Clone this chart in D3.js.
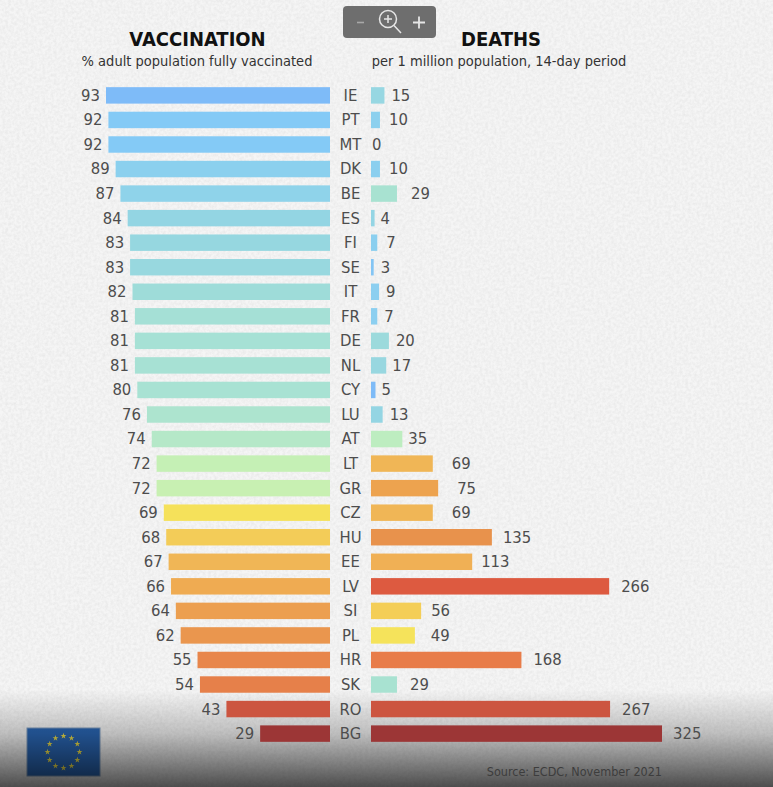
<!DOCTYPE html>
<html>
<head>
<meta charset="utf-8">
<style>
  html, body { margin: 0; padding: 0; background: #f2f2f2; }
  svg { display: block; }
  text { font-family: "DejaVu Sans Condensed", "DejaVu Sans", sans-serif; }
</style>
</head>
<body>
<div class="chart"></div>
<script src="https://cdn.jsdelivr.net/npm/d3@7/dist/d3.min.js"></script>
<script>
var countries = ['IE','PT','MT','DK','BE','ES','FI','SE','IT','FR','DE','NL','CY','LU','AT','LT','GR','CZ','HU','EE','LV','SI','PL','HR','SK','RO','BG']
var vaccination = [93,92,92,89,87,84,83,83,82,81,81,81,80,76,74,72,72,69,68,67,66,64,62,55,54,43,29]
var deaths = [15,10,0,10,29,4,7,3,9,7,20,17,5,13,35,69,75,69,135,113,266,56,49,168,29,267,325]

var vacColors = ['#7ebbf8','#84caf6','#84caf6','#8bd0ee','#8fd3ea','#93d5e3','#96d7e0','#98d8df','#9edcd9','#a5e0d6','#a6e1d5','#a7e1d4','#a8e2d3','#ade4cf','#b5e8c8','#c5f0b5','#c8f0b2','#f5e15a','#f3cc58','#f0b656','#efab52','#ec9f50','#ea964e','#e8864b','#e6804a','#cc5540','#9c3636']
var deathColors = ['#97d7e2','#8cd0ee','#8cd0ee','#8bcfef','#a8e2d1','#94d5e4','#8bcfef','#84c5f4','#8ccff0','#8ccff0','#9cdadc','#98d7e0','#7ebbf7','#94d5e3','#bdedc0','#f0b656','#eda34f','#f0b656','#e8924c','#f0b055','#dd5a40','#f4ce57','#f5e35b','#e87c49','#a8e2d1','#cc5540','#9c3636']

// the death labels are hand placed in the original, gap to bar end in px
var deathLabelGap = [7,9,1,9,14,6,9,7,7,7,7,6,6,7,6,19,19,19,11,9,12,10,16,12,13,12,11]

var width = 773
var height = 787

var svg = d3.select('.chart').append('svg')
    .attr('width', width)
    .attr('height', height)

var defs = svg.append('defs')

// paper texture
var paper = defs.append('filter').attr('id', 'paper')
    .attr('x', 0).attr('y', 0).attr('width', '100%').attr('height', '100%')
paper.append('feTurbulence')
    .attr('type', 'fractalNoise').attr('baseFrequency', 0.35).attr('numOctaves', 3).attr('seed', 4)
paper.append('feColorMatrix')
    .attr('type', 'matrix')
    .attr('values', '0 0 0 0 0.72  0 0 0 0 0.72  0 0 0 0 0.72  0.9 0 0 0 -0.28')
paper.append('feComposite').attr('in2', 'SourceGraphic').attr('operator', 'over')

var shade = defs.append('linearGradient').attr('id', 'shade')
    .attr('x1', 0).attr('x2', 0).attr('y1', 0).attr('y2', 1)
shade.append('stop').attr('offset', '0%').attr('stop-color', '#000').attr('stop-opacity', 0)
shade.append('stop').attr('offset', '45%').attr('stop-color', '#000').attr('stop-opacity', 0.22)
shade.append('stop').attr('offset', '100%').attr('stop-color', '#000').attr('stop-opacity', 0.68)

svg.append('rect')
    .attr('width', width).attr('height', height)
    .attr('fill', '#f5f5f5')
    .attr('filter', 'url(#paper)')

// flag, goes under the shading
var flag = svg.append('g').attr('transform', 'translate(27,728)')
flag.append('rect').attr('width', 73).attr('height', 48)
    .attr('fill', '#2a66b4').attr('stroke', '#7f9cc0').attr('stroke-width', 1)
var star = d3.symbol().type(d3.symbolStar).size(11)
flag.selectAll('path').data(d3.range(12)).enter().append('path')
    .attr('d', star)
    .attr('fill', '#efe04a')
    .attr('transform', function(d) {
        var a = d * Math.PI / 6
        return 'translate(' + (36.5 + 16 * Math.sin(a)) + ',' + (24 - 16 * Math.cos(a)) + ')'
    })

svg.append('rect')
    .attr('y', 690).attr('width', width).attr('height', height - 690)
    .attr('fill', 'url(#shade)')

// SCALES
var y = d3.scaleBand()
    .domain(countries)
    .range([83, 746])
    .paddingInner(0.33)
    .paddingOuter(0.17)

var xLeft = d3.scaleLinear().domain([0, 93]).range([330, 106])
var xRight = d3.scaleLinear().domain([0, 325]).range([371, 662])

var rows = countries.map(function(c, i) {
    return {code: c, vac: vaccination[i], death: deaths[i], vacColor: vacColors[i], deathColor: deathColors[i], gap: deathLabelGap[i]}
})

// left bars
svg.append('g').selectAll('rect').data(rows).enter().append('rect')
    .attr('x', function(d) { return xLeft(d.vac) })
    .attr('y', function(d) { return y(d.code) })
    .attr('width', function(d) { return xLeft(0) - xLeft(d.vac) })
    .attr('height', y.bandwidth())
    .attr('fill', function(d) { return d.vacColor })

// right bars
svg.append('g').selectAll('rect').data(rows).enter().append('rect')
    .attr('x', xRight(0))
    .attr('y', function(d) { return y(d.code) })
    .attr('width', function(d) { return xRight(d.death) - xRight(0) })
    .attr('height', y.bandwidth())
    .attr('fill', function(d) { return d.deathColor })

var labels = svg.append('g').attr('fill', '#4d4d4d').attr('font-size', 16.5)

labels.selectAll('.code').data(rows).enter().append('text')
    .attr('class', 'code')
    .attr('x', 350.5)
    .attr('y', function(d) { return y(d.code) + y.bandwidth() / 2 })
    .attr('dy', '.33em')
    .attr('text-anchor', 'middle')
    .text(function(d) { return d.code })

labels.selectAll('.vac').data(rows).enter().append('text')
    .attr('class', 'vac')
    .attr('x', function(d) { return xLeft(d.vac) - 6 })
    .attr('y', function(d) { return y(d.code) + y.bandwidth() / 2 })
    .attr('dy', '.33em')
    .attr('text-anchor', 'end')
    .text(function(d) { return d.vac })

labels.selectAll('.death').data(rows).enter().append('text')
    .attr('class', 'death')
    .attr('x', function(d) { return xRight(d.death) + d.gap })
    .attr('y', function(d) { return y(d.code) + y.bandwidth() / 2 })
    .attr('dy', '.33em')
    .text(function(d) { return d.death })

// titles
svg.append('text').attr('x', 197.5).attr('y', 46).attr('text-anchor', 'middle')
    .attr('font-size', 20).attr('font-weight', 'bold').attr('fill', '#111').text('VACCINATION')
svg.append('text').attr('x', 501).attr('y', 46).attr('text-anchor', 'middle')
    .attr('font-size', 20).attr('font-weight', 'bold').attr('fill', '#111').text('DEATHS')
svg.append('text').attr('x', 197).attr('y', 66).attr('text-anchor', 'middle')
    .attr('font-size', 14.5).attr('fill', '#333').text('% adult population fully vaccinated')
svg.append('text').attr('x', 499).attr('y', 66).attr('text-anchor', 'middle')
    .attr('font-size', 14.5).attr('fill', '#333').text('per 1 million population, 14-day period')

svg.append('text').attr('x', 662).attr('y', 776).attr('text-anchor', 'end')
    .attr('font-size', 12.5).attr('fill', '#3d3d3d').text('Source: ECDC, November 2021')

// zoom control, top centre
var zoomBox = svg.append('g').attr('transform', 'translate(343,6)')
zoomBox.append('rect').attr('width', 93).attr('height', 32).attr('rx', 4).attr('fill', '#6e6e6e')
zoomBox.append('line').attr('x1', 14).attr('x2', 21).attr('y1', 16.5).attr('y2', 16.5)
    .attr('stroke', '#a8a8a8').attr('stroke-width', 1.6)
zoomBox.append('path').attr('d', 'M70 16.5H82M76 10.5V22.5')
    .attr('stroke', '#e6e6e6').attr('stroke-width', 1.8).attr('fill', 'none')
zoomBox.append('circle').attr('cx', 45).attr('cy', 13).attr('r', 8.5)
    .attr('stroke', '#e6e6e6').attr('stroke-width', 1.5).attr('fill', 'none')
zoomBox.append('path').attr('d', 'M51 19.5L58 27M41 13H49M45 9V17')
    .attr('stroke', '#e6e6e6').attr('stroke-width', 1.5).attr('fill', 'none')
</script>
</body>
</html>
